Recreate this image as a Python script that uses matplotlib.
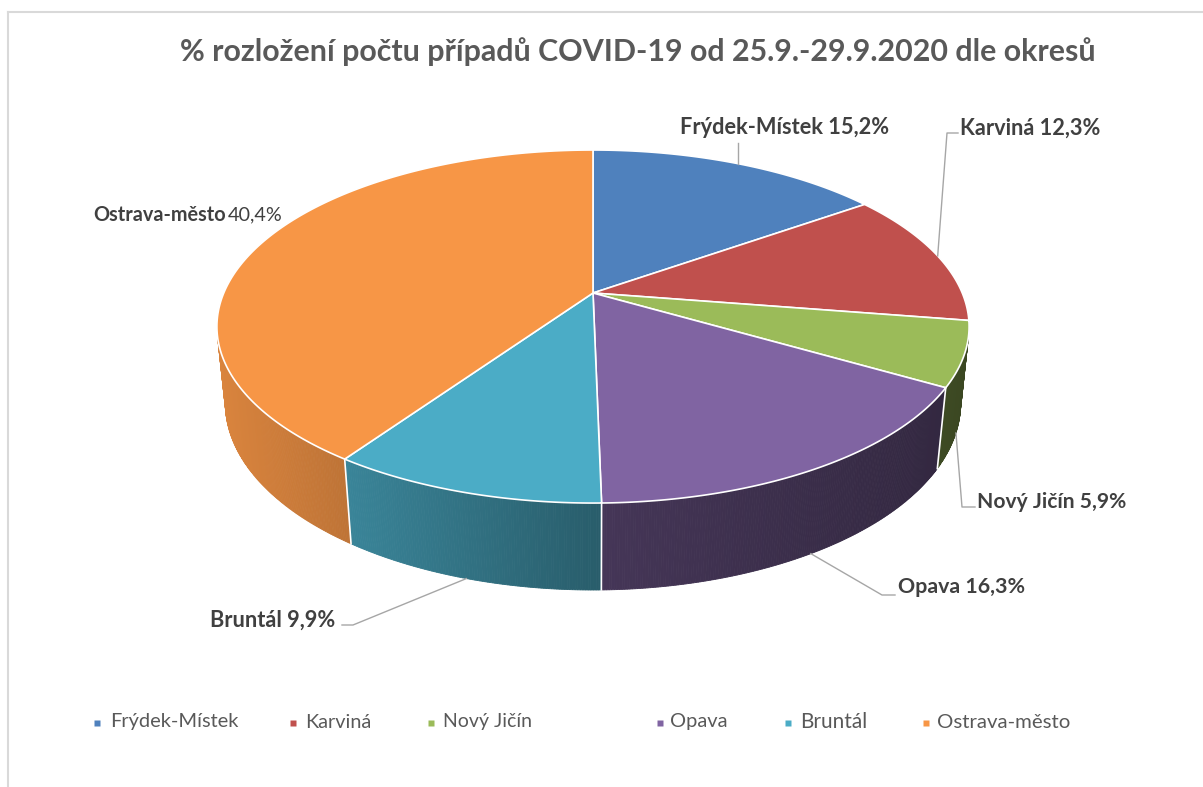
import numpy as np
import matplotlib
matplotlib.use('Agg')
import matplotlib.pyplot as plt
from matplotlib.patches import Polygon
from matplotlib.colors import to_rgb

# data
title = '% rozložení počtu případů COVID-19 od 25.9.-29.9.2020 dle okresů'
categories = ['Frýdek-Místek', 'Karviná', 'Nový Jičín', 'Opava', 'Bruntál', 'Ostrava-město']
values = [15.2, 12.3, 5.9, 16.3, 9.9, 40.4]
colors = ['#4f81bd', '#c0504d', '#9bbb59', '#8064a2', '#4bacc6', '#f79646']

plt.rcParams['font.family'] = ['Lato', 'DejaVu Sans']

W, H = 1203, 787
fig = plt.figure(figsize=(W / 100, H / 100), dpi=100)
ax = fig.add_axes([0, 0, 1, 1])
ax.set_xlim(0, W)
ax.set_ylim(H, 0)
ax.axis('off')

# chart frame (only top/left edge visible in the screenshot)
ax.plot([8, W], [12, 12], color='#d9d9d9', lw=1.5)
ax.plot([8, 8], [12, H], color='#d9d9d9', lw=1.5)

# --- 3D pie projection (tilted disk seen in perspective) ---
CX, CY = 593, 293          # screen position of the pie centre
F, D = 1765, 4.694         # focal length, camera distance (radius = 1)
SX = 0.982                 # horizontal squeeze
SE, CE = 0.4525, 0.8918    # sin / cos of the elevation
DEPTH = 0.2296             # thickness of the pie


def proj(th, y=0.0):
    X = np.sin(th)
    Z = np.cos(th)
    yc = y * CE + Z * SE
    zc = D + Z * CE - y * SE
    return CX + SX * F * X / zc, CY - F * yc / zc


def shade(x):
    return np.interp(x, [217, 345, 600, 943, 968], [0.88, 0.77, 0.54, 0.40, 0.38])


total = sum(values)
bounds = np.deg2rad(360 * np.concatenate([[0], np.cumsum(values)]) / total)

# side wall is visible where cos(theta) < -1/(D*CE)
th_vis = np.arccos(-1 / (D * CE))
vis_lo, vis_hi = th_vis, 2 * np.pi - th_vis

for i in range(len(values)):
    a0 = max(bounds[i], vis_lo)
    a1 = min(bounds[i + 1], vis_hi)
    if a1 <= a0:
        continue
    ths = np.linspace(a0, a1, max(int(np.rad2deg(a1 - a0) * 3), 2))
    base = np.array(to_rgb(colors[i]))
    for t0, t1 in zip(ths[:-1], ths[1:]):
        p = [proj(t0), proj(t1), proj(t1, -DEPTH), proj(t0, -DEPTH)]
        xm = (p[0][0] + p[1][0]) / 2
        c = np.clip(base * shade(xm), 0, 1)
        ax.add_patch(Polygon(p, closed=True, fc=c, ec=c, lw=0.6))

# white seams between the side walls
for b in bounds[1:-1]:
    if vis_lo < b < vis_hi:
        p0 = proj(b)
        p1 = proj(b, -DEPTH)
        ax.plot([p0[0], p1[0]], [p0[1], p1[1]], color='white', lw=1.2)

# top faces
for i in range(len(values)):
    ths = np.linspace(bounds[i], bounds[i + 1], 300)
    pts = [(CX, CY)] + [proj(t) for t in ths]
    ax.add_patch(Polygon(pts, closed=True, fc=colors[i], ec='white', lw=1.2,
                         joinstyle='round'))

renderer = fig.canvas.get_renderer()


def put(x, y, s, width, scale=1.0, **kw):
    t = ax.text(x, y, s, fontsize=12, ha='left', va='center', **kw)
    bb = t.get_window_extent(renderer=renderer)
    t.set_fontsize(12 * width / bb.width * scale)
    return t


put(180, 52, title, 915, color='#595959', fontweight='bold')

# data labels: (left x, centre y, width), leader start, elbow, anchor on pie
label_pos = [(680, 128, 208), (960, 128, 140), (977, 502, 148),
             (898, 587, 127), (210, 620, 125), (93, 215, 132)]
leader_start = [None, (958, 133), (975, 507), (895, 595), (342, 625), None]
leader_elbow = [None, (947, 133), (962, 507), (882, 595), (353, 625), None]
anchor_on_side = [False, False, True, True, True, False]

for i, (cat, v) in enumerate(zip(categories, values)):
    lx, ly, lw_ = label_pos[i]
    pct = f'{v:.1f}%'.replace('.', ',')
    if i == 5:
        # Excel rendered the percentage of this label in regular weight
        put(lx, ly, cat, lw_, color='#404040', fontweight='bold')
        put(lx + lw_ + 3, ly, pct, 55, color='#404040')
    else:
        put(lx, ly, f'{cat} {pct}', lw_, color='#404040', fontweight='bold')
    mid = (bounds[i] + bounds[i + 1]) / 2
    anc = proj(mid, -DEPTH if anchor_on_side[i] else 0.0)
    if i == 0:
        ax.plot([anc[0], anc[0]], [143, anc[1]], color='#a6a6a6', lw=1)
    elif leader_start[i] is not None:
        xs = [leader_start[i][0], leader_elbow[i][0], anc[0]]
        ys = [leader_start[i][1], leader_elbow[i][1], anc[1]]
        ax.plot(xs, ys, color='#a6a6a6', lw=1)

# legend
leg_marker_x = [97, 293, 431, 660, 788, 926]
leg_text_x = [110, 305, 443, 670, 800, 937]
leg_text_w = [118, 61, 82, 53, 62, 123]
for i, cat in enumerate(categories):
    ax.plot(leg_marker_x[i], 723, marker='s', ms=5, color=colors[i], mec='none')
    put(leg_text_x[i], 722, cat, leg_text_w[i], scale=1.08, color='#595959')

fig.savefig('out.png', dpi=100)
